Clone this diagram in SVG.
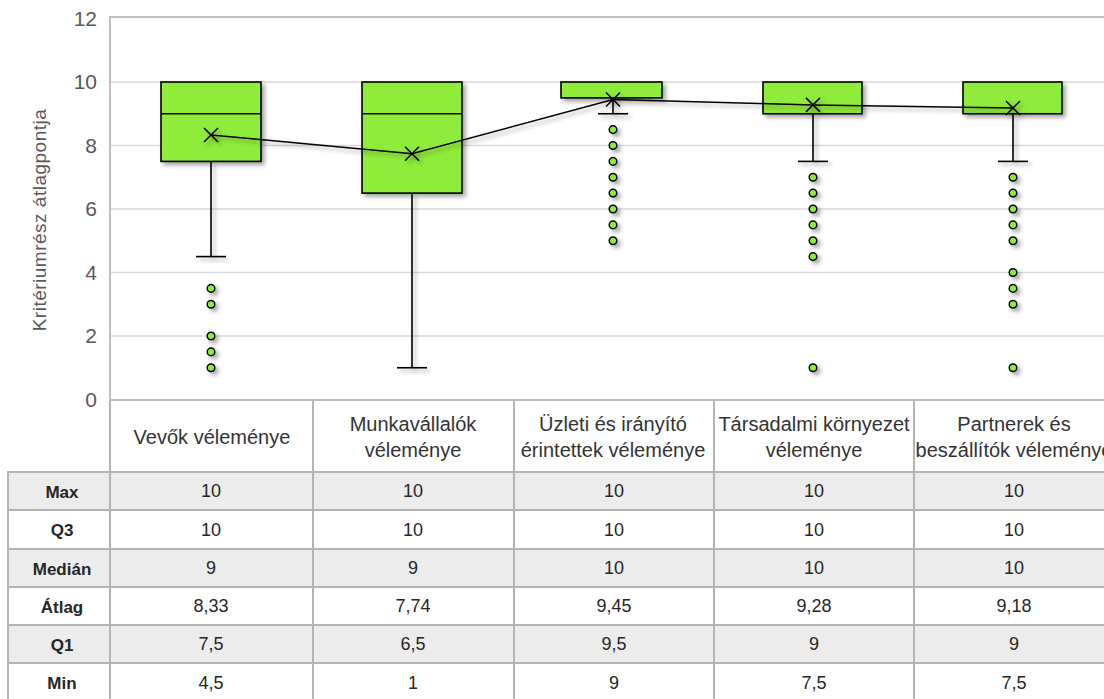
<svg xmlns="http://www.w3.org/2000/svg" width="1104" height="699" viewBox="0 0 1104 699">
  <style>
    .grid { stroke: #d9d9d9; stroke-width: 1.5; }
    .frame { stroke: #bfbfbf; stroke-width: 2; fill: none; }
    .tick { font-family: "Liberation Sans", Arial, sans-serif; font-size: 21px; fill: #595959; text-anchor: end; }
    .title { font-family: "Liberation Sans", Arial, sans-serif; font-size: 19px; fill: #595959; text-anchor: middle; letter-spacing: 0.5px; }
    .box { fill: #8fec3a; stroke: #000; stroke-width: 1.6; }
    .wh { stroke: #000; stroke-width: 1.6; fill: none; }
    .out { fill: #8fec3a; stroke: #000; stroke-width: 1.5; }
    .mean { stroke: #000; stroke-width: 1.5; fill: none; }
    .tline { stroke: #b4b4b4; stroke-width: 2; }
    .shade { fill: #ececec; }
    .hdr { font-family: "Liberation Sans", Arial, sans-serif; font-size: 20px; fill: #333; text-anchor: middle; }
    .val { font-family: "Liberation Sans", Arial, sans-serif; font-size: 18px; fill: #262626; text-anchor: middle; }
    .lab { font-family: "Liberation Sans", Arial, sans-serif; font-size: 17px; font-weight: bold; fill: #262626; text-anchor: middle; }
  </style>
  <defs>
    <filter id="shadow" x="-30%" y="-30%" width="160%" height="160%">
      <feDropShadow dx="3" dy="3" stdDeviation="2" flood-color="#000" flood-opacity="0.35"/>
    </filter>
  </defs>

  <rect width="1104" height="699" fill="#fff"/>

  <!-- plot area: gridlines and frame -->
  <g id="plot-area">
    <line class="grid" x1="111" y1="82" x2="1104" y2="82"/>
    <line class="grid" x1="111" y1="145.5" x2="1104" y2="145.5"/>
    <line class="grid" x1="111" y1="209" x2="1104" y2="209"/>
    <line class="grid" x1="111" y1="272.5" x2="1104" y2="272.5"/>
    <line class="grid" x1="111" y1="336" x2="1104" y2="336"/>
    <path class="frame" d="M1104 17 H110 V400 H1104"/>
  </g>

  <!-- value axis -->
  <g id="y-axis">
    <text class="tick" x="97" y="26">12</text>
    <text class="tick" x="97" y="89">10</text>
    <text class="tick" x="97" y="153">8</text>
    <text class="tick" x="97" y="216">6</text>
    <text class="tick" x="97" y="280">4</text>
    <text class="tick" x="97" y="343">2</text>
    <text class="tick" x="97" y="407">0</text>
    <text class="title" transform="translate(46 220) rotate(-90)">Kritériumrész átlagpontja</text>
  </g>

  <!-- box plots -->
  <g id="box-vevok" filter="url(#shadow)">
    <line class="wh" x1="211" y1="161.4" x2="211" y2="256.6"/>
    <line class="wh" x1="196" y1="256.6" x2="226" y2="256.6"/>
    <rect class="box" x="161" y="82" width="100" height="79.4"/>
    <line class="wh" x1="161" y1="113.75" x2="261" y2="113.75"/>
    <circle class="out" cx="211" cy="288.4" r="3.8"/>
    <circle class="out" cx="211" cy="304.25" r="3.8"/>
    <circle class="out" cx="211" cy="336" r="3.8"/>
    <circle class="out" cx="211" cy="351.9" r="3.8"/>
    <circle class="out" cx="211" cy="367.75" r="3.8"/>
  </g>

  <g id="box-munkavallalok" filter="url(#shadow)">
    <line class="wh" x1="412" y1="193.1" x2="412" y2="367.75"/>
    <line class="wh" x1="397" y1="367.75" x2="427" y2="367.75"/>
    <rect class="box" x="362" y="82" width="100" height="111.1"/>
    <line class="wh" x1="362" y1="113.75" x2="462" y2="113.75"/>
  </g>

  <g id="box-uzleti" filter="url(#shadow)">
    <line class="wh" x1="613" y1="97.9" x2="613" y2="113.75"/>
    <line class="wh" x1="598" y1="113.75" x2="628" y2="113.75"/>
    <rect class="box" x="561" y="82" width="101" height="15.9"/>
    <circle class="out" cx="613" cy="129.6" r="3.8"/>
    <circle class="out" cx="613" cy="145.5" r="3.8"/>
    <circle class="out" cx="613" cy="161.4" r="3.8"/>
    <circle class="out" cx="613" cy="177.25" r="3.8"/>
    <circle class="out" cx="613" cy="193.1" r="3.8"/>
    <circle class="out" cx="613" cy="209" r="3.8"/>
    <circle class="out" cx="613" cy="224.9" r="3.8"/>
    <circle class="out" cx="613" cy="240.75" r="3.8"/>
  </g>

  <g id="box-tarsadalmi" filter="url(#shadow)">
    <line class="wh" x1="813" y1="113.75" x2="813" y2="161.4"/>
    <line class="wh" x1="798" y1="161.4" x2="828" y2="161.4"/>
    <rect class="box" x="763" y="82" width="99" height="31.75"/>
    <circle class="out" cx="813" cy="177.25" r="3.8"/>
    <circle class="out" cx="813" cy="193.1" r="3.8"/>
    <circle class="out" cx="813" cy="209" r="3.8"/>
    <circle class="out" cx="813" cy="224.9" r="3.8"/>
    <circle class="out" cx="813" cy="240.75" r="3.8"/>
    <circle class="out" cx="813" cy="256.6" r="3.8"/>
    <circle class="out" cx="813" cy="367.75" r="3.8"/>
  </g>

  <g id="box-partnerek" filter="url(#shadow)">
    <line class="wh" x1="1013" y1="113.75" x2="1013" y2="161.4"/>
    <line class="wh" x1="998" y1="161.4" x2="1028" y2="161.4"/>
    <rect class="box" x="963" y="82" width="99" height="31.75"/>
    <circle class="out" cx="1013" cy="177.25" r="3.8"/>
    <circle class="out" cx="1013" cy="193.1" r="3.8"/>
    <circle class="out" cx="1013" cy="209" r="3.8"/>
    <circle class="out" cx="1013" cy="224.9" r="3.8"/>
    <circle class="out" cx="1013" cy="240.75" r="3.8"/>
    <circle class="out" cx="1013" cy="272.5" r="3.8"/>
    <circle class="out" cx="1013" cy="288.4" r="3.8"/>
    <circle class="out" cx="1013" cy="304.25" r="3.8"/>
    <circle class="out" cx="1013" cy="367.75" r="3.8"/>
  </g>

  <!-- mean line with X markers -->
  <g id="connectors" filter="url(#shadow)">
    <polyline class="mean" points="211,135 412,153.8 613,99.5 813,104.9 1013,108"/>
    <path class="mean" d="M204 128 l14 14 M218 128 l-14 14"/>
    <path class="mean" d="M405 146.8 l14 14 M419 146.8 l-14 14"/>
    <path class="mean" d="M606 92.5 l14 14 M620 92.5 l-14 14"/>
    <path class="mean" d="M806 97.9 l14 14 M820 97.9 l-14 14"/>
    <path class="mean" d="M1006 101 l14 14 M1020 101 l-14 14"/>
  </g>

  <!-- data table -->
  <g id="data-table">
    <rect class="shade" x="8" y="472" width="1096" height="38"/>
    <rect class="shade" x="8" y="549" width="1096" height="38"/>
    <rect class="shade" x="8" y="625" width="1096" height="38"/>

    <line class="tline" x1="110" y1="400" x2="110" y2="699"/>
    <line class="tline" x1="313" y1="400" x2="313" y2="699"/>
    <line class="tline" x1="514" y1="400" x2="514" y2="699"/>
    <line class="tline" x1="714" y1="400" x2="714" y2="699"/>
    <line class="tline" x1="914" y1="400" x2="914" y2="699"/>
    <line class="tline" x1="8" y1="471" x2="8" y2="699"/>

    <line class="tline" x1="8" y1="472" x2="1104" y2="472"/>
    <line class="tline" x1="8" y1="510" x2="1104" y2="510"/>
    <line class="tline" x1="8" y1="549" x2="1104" y2="549"/>
    <line class="tline" x1="8" y1="587" x2="1104" y2="587"/>
    <line class="tline" x1="8" y1="625" x2="1104" y2="625"/>
    <line class="tline" x1="8" y1="663" x2="1104" y2="663"/>

    <text class="hdr" x="212" y="444">Vevők véleménye</text>
    <text class="hdr" x="413" y="431">Munkavállalók</text>
    <text class="hdr" x="413" y="457">véleménye</text>
    <text class="hdr" x="613" y="431">Üzleti és irányító</text>
    <text class="hdr" x="613" y="457">érintettek véleménye</text>
    <text class="hdr" x="814" y="431">Társadalmi környezet</text>
    <text class="hdr" x="814" y="457">véleménye</text>
    <text class="hdr" x="1014" y="431">Partnerek és</text>
    <text class="hdr" x="1014" y="457">beszállítók véleménye</text>

    <text class="lab" x="62" y="498">Max</text>
    <text class="lab" x="62" y="536">Q3</text>
    <text class="lab" x="62" y="575">Medián</text>
    <text class="lab" x="62" y="613">Átlag</text>
    <text class="lab" x="62" y="651">Q1</text>
    <text class="lab" x="62" y="689">Min</text>

    <text class="val" x="211" y="497">10</text>
    <text class="val" x="413" y="497">10</text>
    <text class="val" x="614" y="497">10</text>
    <text class="val" x="814" y="497">10</text>
    <text class="val" x="1014" y="497">10</text>

    <text class="val" x="211" y="536">10</text>
    <text class="val" x="413" y="536">10</text>
    <text class="val" x="614" y="536">10</text>
    <text class="val" x="814" y="536">10</text>
    <text class="val" x="1014" y="536">10</text>

    <text class="val" x="211" y="574">9</text>
    <text class="val" x="413" y="574">9</text>
    <text class="val" x="614" y="574">10</text>
    <text class="val" x="814" y="574">10</text>
    <text class="val" x="1014" y="574">10</text>

    <text class="val" x="211" y="612">8,33</text>
    <text class="val" x="413" y="612">7,74</text>
    <text class="val" x="614" y="612">9,45</text>
    <text class="val" x="814" y="612">9,28</text>
    <text class="val" x="1014" y="612">9,18</text>

    <text class="val" x="211" y="650">7,5</text>
    <text class="val" x="413" y="650">6,5</text>
    <text class="val" x="614" y="650">9,5</text>
    <text class="val" x="814" y="650">9</text>
    <text class="val" x="1014" y="650">9</text>

    <text class="val" x="211" y="689">4,5</text>
    <text class="val" x="413" y="689">1</text>
    <text class="val" x="614" y="689">9</text>
    <text class="val" x="814" y="689">7,5</text>
    <text class="val" x="1014" y="689">7,5</text>
  </g>
</svg>
